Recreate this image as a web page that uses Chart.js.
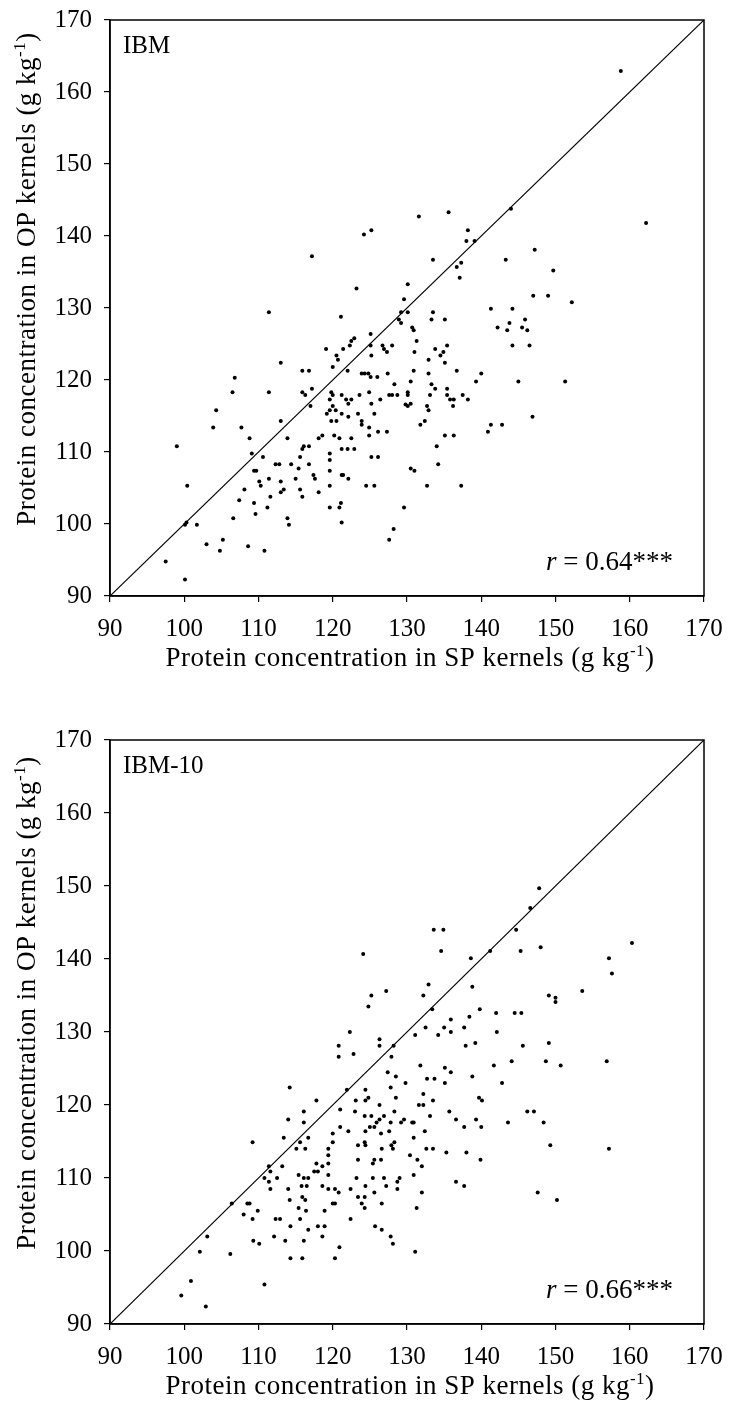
<!DOCTYPE html>
<html>
<head>
<meta charset="utf-8">
<script src="https://cdn.jsdelivr.net/npm/chart.js@4.4.1/dist/chart.umd.min.js"></script>
<style>
  html, body { margin: 0; padding: 0; background: #fff; }
  .panel { position: relative; width: 731px; }
  canvas { display: block; }
</style>
</head>
<body>
<div class="panel" style="height:711px"><canvas id="ibmChart" width="731" height="711"></canvas></div>
<div class="panel" style="height:712px"><canvas id="ibm10Chart" width="731" height="712"></canvas></div>
<script>
// ------------------- DATA -------------------
const axisTicks = [90, 100, 110, 120, 130, 140, 150, 160, 170];

// IBM population: protein in SP kernels (x) vs OP kernels (y), g/kg
const ibmSP = [
  111.4,119.1,113.0,115.9,116.8,106.8,106.5,111.4,115.9,116.3,117.2,104.3,117.0,103.9,107.7,113.0,99.0,108.8,113.9,109.1,
  110.6,109.4,109.7,112.3,112.8,114.4,115.6,115.4,116.8,115.9,116.1,116.8,118.1,118.6,110.1,110.3,111.4,113.0,115.0,117.4,
  117.6,100.4,108.1,107.4,109.4,111.6,113.0,113.4,115.6,115.9,118.1,111.2,109.6,106.6,113.9,114.1,100.3,100.1,101.7,103.0,
  105.2,104.8,108.6,110.8,97.5,100.1,119.2,
  121.1,129.2,130.1,133.5,133.3,135.1,128.9,129.2,130.7,130.9,
  125.1,122.9,122.5,122.3,121.4,120.5,120.7,120.0,122.0,125.1,
  125.2,126.7,126.9,127.3,128.0,131.3,131.0,135.4,133.8,134.9,
  134.5,135.1,132.9,136.7,130.9,132.9,130.5,123.9,124.3,124.8,
  125.1,126.0,127.4,128.3,133.3,133.8,135.4,119.8,120.0,121.2,
  121.8,122.5,123.6,124.9,126.4,127.6,128.0,128.7,130.1,130.1,
  133.1,135.4,135.8,136.3,137.5,138.2,119.6,120.0,119.6,120.4,
  122.1,125.2,129.8,130.1,130.5,132.7,132.9,136.2,119.8,120.5,
  121.2,122.1,123.4,125.6,123.9,123.9,124.9,124.9,126.1,127.3,
  131.8,132.4,135.1,136.3,120.2,120.9,122.5,121.2,122.0,122.9,
  119.6,119.6,134.0,125.2,126.1,134.2,119.6,121.2,121.4,122.1,
  130.5,131.0,119.6,124.5,125.6,132.7,137.3,119.6,120.9,121.1,
  121.2,129.6,128.2,127.6,141.3,144.2,142.2,143.5,143.8,145.9,
  145.5,146.2,146.5,144.2,139.3,140.0,145.0,141.3,142.8,140.9,
  152.2,151.3,146.9,158.8,162.2,144.0,135.6,131.6,124.2,125.2,
  138.2,138.0,139.1,147.2,117.2,133.5,143.3,137.3,136.7,149.7,
  137.1,123.2,130.1,129.6,147.0,149.0
];
const ibmOP = [
  129.4,124.3,122.4,121.3,121.3,120.3,118.3,118.3,118.3,117.9,118.8,115.8,116.4,113.4,113.4,114.3,110.8,111.9,111.9,109.8,
  109.3,107.4,107.4,108.3,108.3,108.3,109.3,107.7,108.3,110.4,110.8,110.8,111.9,112.3,105.9,105.3,106.3,105.9,106.3,106.8,
  106.3,105.3,104.8,103.3,102.9,103.8,104.4,104.8,104.8,103.8,104.4,102.3,101.4,100.8,100.8,99.9,100.2,99.9,99.9,97.2,
  97.8,96.3,96.9,96.3,94.8,92.3,115.3,
  128.8,129.4,129.4,129.4,128.4,128.4,128.4,127.9,127.3,126.9,
  126.4,125.8,125.4,124.8,124.3,123.4,122.8,121.8,121.3,124.8,
  123.4,124.8,124.3,123.9,124.8,125.4,123.9,124.8,124.3,123.9,
  123.4,122.4,122.8,121.3,121.3,120.9,119.8,120.9,120.9,120.9,
  120.4,120.4,120.9,119.4,119.4,118.8,118.8,118.3,117.9,117.9,
  117.3,117.3,117.9,118.3,117.3,117.9,117.9,117.9,118.3,117.9,
  117.9,117.9,117.3,117.3,117.9,117.3,117.3,116.4,115.8,115.8,
  116.7,116.7,116.6,116.4,116.7,116.4,115.8,116.4,114.3,114.3,
  115.3,114.9,115.3,115.3,114.3,113.8,113.4,112.3,112.8,112.8,
  113.8,114.3,112.3,112.3,112.3,111.9,111.9,110.4,110.4,110.4,
  109.8,108.9,110.8,109.3,109.3,108.3,107.4,106.8,106.8,106.3,
  107.7,107.4,105.3,105.3,105.3,105.3,105.3,102.3,102.3,102.9,
  100.2,102.3,99.3,97.8,129.9,129.9,127.3,126.9,127.9,128.4,
  127.3,126.9,124.8,124.8,119.8,120.9,119.8,113.8,113.8,112.8,
  130.8,119.8,114.9,162.9,141.8,143.8,143.3,142.7,140.2,140.8,
  140.8,139.3,139.3,138.1,137.2,136.7,136.7,136.3,135.7,135.2,
  134.2,132.7,133.3,131.2,131.7,131.7
];

// IBM-10 population
const ibm10SP = [
  114.2,117.8,116.1,114.0,116.1,113.4,116.7,109.2,115.6,115.1,
  116.3,119.4,119.4,117.8,118.6,119.4,111.4,113.2,111.6,117.5,
  118.0,115.4,116.1,116.7,119.4,110.8,112.5,111.4,115.8,116.5,
  118.6,111.6,114.0,119.4,115.9,116.3,114.2,106.4,108.5,108.8,
  115.4,109.9,116.4,118.9,108.0,109.2,112.3,112.9,115.6,114.3,
  118.0,118.9,116.7,103.1,112.1,118.6,109.3,110.1,113.6,116.1,
  102.1,106.2,114.3,115.9,100.9,110.8,99.6,102.9,
  133.4,139.8,142.0,144.5,145.4,138.4,135.9,135.0,132.5,137.7,
  135.9,134.2,131.1,142.1,122.3,126.3,126.3,120.8,120.8,122.8,
  128.2,127.9,137.9,139.2,145.6,144.1,141.7,131.8,135.1,135.9,
  127.4,128.5,132.7,133.7,138.8,129.8,135.1,142.8,127.8,121.9,
  124.4,132.2,128.5,139.7,140.1,123.1,124.4,124.8,133.5,121.0,
  126.3,131.6,132.2,123.0,128.3,135.7,146.2,124.3,125.2,126.9,
  133.1,126.3,129.2,129.6,127.8,130.7,130.9,136.6,139.3,143.6,
  121.0,125.0,125.6,125.9,137.7,140.0,120.0,122.1,124.4,127.6,
  126.5,130.9,132.4,120.0,123.4,124.3,124.4,127.9,128.3,128.1,
  126.6,132.6,133.5,130.4,135.3,138.0,123.4,125.6,125.4,126.5,
  131.4,132.0,139.9,123.2,125.4,126.9,129.0,128.7,130.9,136.6,
  137.7,120.3,120.8,122.4,124.4,127.2,128.7,125.6,132.0,123.4,
  124.3,120.0,120.3,123.9,124.3,126.6,131.3,122.4,125.7,126.6,
  127.8,128.1,120.9,120.3,131.1,
  149.1,148.7,150.7,156.9,147.1,148.4,149.3,157.2,147.6,150.2,
  147.8,146.6,144.7,133.6,134.9,160.3,124.1,134.6,141.2,145.3,
  148.0,138.6,157.2,157.6,132.9,138.8,127.2,125.2,132.2,149.1,
  150.0,150.0,153.6,124.8
];
const ibm10OP = [
  122.4,120.6,119.1,118.0,117.6,115.5,115.5,114.9,114.9,114.0,
  114.0,114.0,113.1,112.0,111.6,112.0,111.6,111.6,110.9,110.9,
  110.9,110.4,110.0,110.0,110.4,110.0,110.0,109.5,108.9,108.9,
  108.9,108.5,108.5,108.5,107.4,107.0,107.0,106.5,106.5,106.5,
  105.9,105.5,105.5,105.5,105.0,104.4,104.4,104.4,104.4,103.4,
  103.4,103.4,102.9,102.0,102.0,102.0,101.4,101.0,101.4,101.4,
  99.9,99.6,99.0,99.0,95.9,95.4,93.9,92.4,
  133.1,133.1,132.6,132.6,132.6,132.1,131.7,130.6,130.6,130.6,
  130.0,129.6,129.6,130.0,130.0,129.0,128.1,128.1,126.6,127.0,
  128.1,126.6,128.1,128.5,128.1,126.0,125.4,125.4,125.1,124.5,
  124.5,123.9,123.6,123.6,123.9,123.0,123.0,123.0,122.4,122.1,
  122.1,121.5,121.0,121.0,120.6,120.6,120.6,121.0,120.6,119.4,
  120.0,120.0,120.0,119.1,119.1,119.1,119.1,118.5,118.5,118.5,
  118.5,118.0,117.6,118.0,117.6,117.6,117.6,118.0,118.0,117.6,
  117.0,117.0,117.0,117.6,117.0,117.0,116.1,116.4,116.4,116.4,
  116.1,115.5,116.4,114.9,114.5,114.9,114.5,114.5,114.9,114.0,
  114.0,114.0,114.0,113.1,113.5,113.5,112.5,112.5,112.0,112.5,
  112.5,111.6,112.5,110.0,110.0,110.0,110.0,109.5,110.4,109.5,
  108.9,108.5,108.0,108.5,108.9,108.9,108.5,108.0,108.0,107.4,
  107.4,106.5,106.5,106.5,105.9,106.5,105.9,104.4,103.4,102.9,
  102.0,101.0,100.5,99.0,99.9,
  128.5,126.0,125.4,126.0,119.1,117.6,114.5,114.0,108.0,107.0,
  149.7,147.0,144.0,144.0,144.0,142.2,140.7,141.1,141.1,141.1,
  141.6,140.1,140.1,138.0,136.5,136.2,135.6,135.0,135.0,135.0,
  134.7,134.1,135.6,133.5
];

// 1:1 reference line
const oneToOne = [90, 170];

// ------------------- DECORATION PLUGIN -------------------
const FONT = '"Liberation Serif", "Times New Roman", serif';

// draws text with a "-1" superscript before the closing bracket
function drawSupText(ctx, x, y, main, sup, tail) {
  ctx.letterSpacing = "0.5px";
  ctx.font = `27px ${FONT}`;
  const w1 = ctx.measureText(main).width;
  const w3 = ctx.measureText(tail).width;
  ctx.font = `17px ${FONT}`;
  const w2 = ctx.measureText(sup).width;
  let cx = x - (w1 + w2 + w3) / 2;
  ctx.textAlign = "left";
  ctx.font = `27px ${FONT}`;
  ctx.fillText(main, cx, y);
  cx += w1;
  ctx.font = `17px ${FONT}`;
  ctx.fillText(sup, cx, y - 10);
  cx += w2;
  ctx.font = `27px ${FONT}`;
  ctx.fillText(tail, cx, y);
  ctx.letterSpacing = "0px";
}

const panelDecor = {
  id: "panelDecor",
  afterDraw(chart, args, opts) {
    const { ctx, chartArea: a } = chart;
    ctx.save();
    ctx.fillStyle = "#000";
    ctx.strokeStyle = "#000";

    // frame round the plot
    ctx.lineWidth = 1.5;
    ctx.strokeRect(a.left, a.top, a.right - a.left, a.bottom - a.top);

    ctx.textBaseline = "alphabetic";
    // x title
    drawSupText(ctx, (a.left + a.right) / 2 + 3, a.bottom + 70,
      "Protein concentration in SP kernels (g kg", "-1", ")");

    // y title (rotated)
    ctx.save();
    ctx.translate(35, (a.top + a.bottom) / 2 - 29);
    ctx.rotate(-Math.PI / 2);
    drawSupText(ctx, 0, 0, "Protein concentration in OP kernels (g kg", "-1", ")");
    ctx.restore();

    // panel label
    ctx.font = `25px ${FONT}`;
    ctx.textAlign = "left";
    ctx.fillText(opts.label, a.left + 13, a.top + 33);

    // correlation
    const rest = " = " + opts.r;
    ctx.font = `27px ${FONT}`;
    const wRest = ctx.measureText(rest).width;
    ctx.font = `italic 27px ${FONT}`;
    const wR = ctx.measureText("r").width;
    const xEnd = a.left + 563;
    ctx.fillText("r", xEnd - wRest - wR, a.bottom - 26);
    ctx.font = `27px ${FONT}`;
    ctx.fillText(rest, xEnd - wRest, a.bottom - 26);
    ctx.restore();
  }
};

// ------------------- CHART BUILDER -------------------
function makeChart(canvasId, spVals, opVals, label, rText, top, bottom) {
  const canvas = document.getElementById(canvasId);
  const H = canvas.height;
  const points = spVals.map((v, i) => ({ x: v, y: opVals[i] }));
  const line = oneToOne.map(v => ({ x: v, y: v }));

  const tickStyle = { color: "#000", font: { family: FONT, size: 25 }, autoSkip: false, maxRotation: 0 };
  const gridStyle = { drawOnChartArea: false, drawTicks: true, tickLength: 6, color: "#000", lineWidth: 1.2 };

  return new Chart(canvas.getContext("2d"), {
    type: "scatter",
    data: {
      datasets: [
        {
          data: line,
          showLine: true,
          borderColor: "#000",
          borderWidth: 1.2,
          pointRadius: 0,
          fill: false
        },
        {
          data: points,
          pointRadius: 2,
          pointBackgroundColor: "#000",
          pointBorderWidth: 0
        }
      ]
    },
    options: {
      responsive: false,
      animation: false,
      layout: { padding: { top: top, right: 27, left: 0, bottom: 0 } },
      plugins: {
        legend: { display: false },
        tooltip: { enabled: false },
        panelDecor: { label: label, r: rText }
      },
      scales: {
        x: {
          type: "linear",
          min: 90, max: 170,
          afterBuildTicks: s => { s.ticks = axisTicks.map(v => ({ value: v })); },
          // keep the plot box fixed: no extra room asked for edge labels
          afterFit: s => { s.height = H - bottom; s.paddingLeft = 0; s.paddingRight = 0; },
          grid: gridStyle,
          border: { display: true, color: "#000", width: 1.5 },
          ticks: { ...tickStyle, padding: 12 }
        },
        y: {
          type: "linear",
          min: 90, max: 170,
          afterBuildTicks: s => { s.ticks = axisTicks.map(v => ({ value: v })); },
          afterFit: s => { s.width = 110; s.paddingTop = 0; s.paddingBottom = 0; },
          grid: gridStyle,
          border: { display: true, color: "#000", width: 1.5 },
          ticks: { ...tickStyle, padding: 12 }
        }
      }
    },
    plugins: [panelDecor]
  });
}

makeChart("ibmChart", ibmSP, ibmOP, "IBM", "0.64***", 20, 596);
makeChart("ibm10Chart", ibm10SP, ibm10OP, "IBM-10", "0.66***", 29, 613);
</script>
</body>
</html>
